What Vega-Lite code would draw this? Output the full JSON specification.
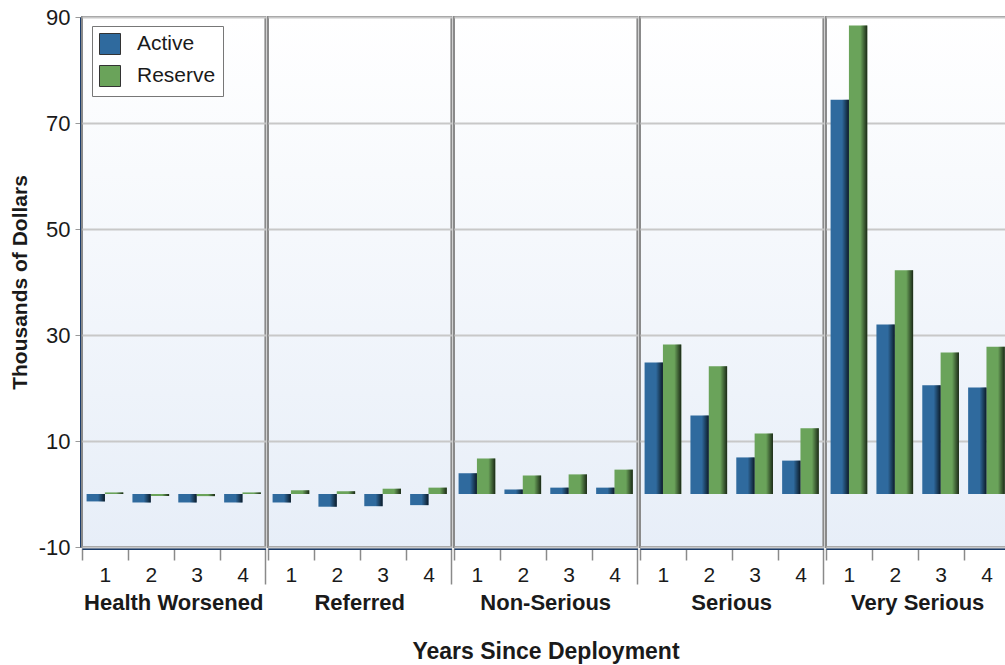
{
  "$schema": "https://vega.github.io/schema/vega-lite/v6.json",
  "padding": {"left": 9, "top": 6, "right": 0, "bottom": 2},
  "background": "white",
  "data": {"values": [
    {"cat": "Health Worsened", "year": "1", "group": "Active", "value": -1.4},
    {"cat": "Health Worsened", "year": "1", "group": "Reserve", "value": 0.3},
    {"cat": "Health Worsened", "year": "2", "group": "Active", "value": -1.6},
    {"cat": "Health Worsened", "year": "2", "group": "Reserve", "value": -0.4},
    {"cat": "Health Worsened", "year": "3", "group": "Active", "value": -1.6},
    {"cat": "Health Worsened", "year": "3", "group": "Reserve", "value": -0.4},
    {"cat": "Health Worsened", "year": "4", "group": "Active", "value": -1.6},
    {"cat": "Health Worsened", "year": "4", "group": "Reserve", "value": 0.3},
    {"cat": "Referred", "year": "1", "group": "Active", "value": -1.6},
    {"cat": "Referred", "year": "1", "group": "Reserve", "value": 0.7},
    {"cat": "Referred", "year": "2", "group": "Active", "value": -2.4},
    {"cat": "Referred", "year": "2", "group": "Reserve", "value": 0.5},
    {"cat": "Referred", "year": "3", "group": "Active", "value": -2.3},
    {"cat": "Referred", "year": "3", "group": "Reserve", "value": 1.0},
    {"cat": "Referred", "year": "4", "group": "Active", "value": -2.1},
    {"cat": "Referred", "year": "4", "group": "Reserve", "value": 1.2},
    {"cat": "Non-Serious", "year": "1", "group": "Active", "value": 3.9},
    {"cat": "Non-Serious", "year": "1", "group": "Reserve", "value": 6.7},
    {"cat": "Non-Serious", "year": "2", "group": "Active", "value": 0.85},
    {"cat": "Non-Serious", "year": "2", "group": "Reserve", "value": 3.5},
    {"cat": "Non-Serious", "year": "3", "group": "Active", "value": 1.2},
    {"cat": "Non-Serious", "year": "3", "group": "Reserve", "value": 3.7},
    {"cat": "Non-Serious", "year": "4", "group": "Active", "value": 1.2},
    {"cat": "Non-Serious", "year": "4", "group": "Reserve", "value": 4.6},
    {"cat": "Serious", "year": "1", "group": "Active", "value": 24.8},
    {"cat": "Serious", "year": "1", "group": "Reserve", "value": 28.2},
    {"cat": "Serious", "year": "2", "group": "Active", "value": 14.8},
    {"cat": "Serious", "year": "2", "group": "Reserve", "value": 24.1},
    {"cat": "Serious", "year": "3", "group": "Active", "value": 6.9},
    {"cat": "Serious", "year": "3", "group": "Reserve", "value": 11.4},
    {"cat": "Serious", "year": "4", "group": "Active", "value": 6.3},
    {"cat": "Serious", "year": "4", "group": "Reserve", "value": 12.4},
    {"cat": "Very Serious", "year": "1", "group": "Active", "value": 74.4},
    {"cat": "Very Serious", "year": "1", "group": "Reserve", "value": 88.4},
    {"cat": "Very Serious", "year": "2", "group": "Active", "value": 32.0},
    {"cat": "Very Serious", "year": "2", "group": "Reserve", "value": 42.2},
    {"cat": "Very Serious", "year": "3", "group": "Active", "value": 20.5},
    {"cat": "Very Serious", "year": "3", "group": "Reserve", "value": 26.7},
    {"cat": "Very Serious", "year": "4", "group": "Active", "value": 20.1},
    {"cat": "Very Serious", "year": "4", "group": "Reserve", "value": 27.8}
  ]},
  "facet": {
    "column": {
      "field": "cat",
      "type": "nominal",
      "sort": ["Health Worsened", "Referred", "Non-Serious", "Serious", "Very Serious"],
      "title": "Years Since Deployment",
      "header": {
        "labelOrient": "bottom",
        "labelFont": "Liberation Sans",
        "labelFontSize": 22,
        "labelFontWeight": "bold",
        "labelColor": "#1a1a1a",
        "labelPadding": 8,
        "titleOrient": "bottom",
        "titleFont": "Liberation Sans",
        "titleFontSize": 23,
        "titleFontWeight": "bold",
        "titleColor": "#1a1a1a",
        "titlePadding": 17
      }
    }
  },
  "spacing": 0,
  "spec": {
    "width": 183.4,
    "height": 530,
    "encoding": {
      "x": {
        "field": "year",
        "type": "ordinal",
        "scale": {"paddingInner": 0, "paddingOuter": 0},
        "axis": {
          "title": null,
          "labelAngle": 0,
          "labelFont": "Liberation Sans",
          "labelFontSize": 21,
          "labelColor": "#1a1a1a",
          "labelPadding": {"condition": {"test": "datum.value === '4'", "value": -20}, "value": 4},
          "domainColor": "#1c3d6b",
          "domainWidth": 3,
          "tickBand": "extent",
          "tickColor": "#8a8a8a",
          "tickWidth": 1.5,
          "tickSize": {"condition": {"test": "datum.value === '4'", "value": 36}, "value": 12}
        }
      },
      "xOffset": {"field": "group", "type": "nominal", "scale": {"domain": ["Active", "Reserve"], "paddingInner": 0, "paddingOuter": 0.25}},
      "y": {
        "field": "value",
        "type": "quantitative",
        "scale": {"domain": [-10, 90], "nice": false, "zero": false},
        "axis": {
          "title": "Thousands of Dollars",
          "titleFont": "Liberation Sans",
          "titleFontSize": 21,
          "titleFontWeight": "bold",
          "titleColor": "#1a1a1a",
          "titlePadding": 8,
          "values": [-10, 10, 30, 50, 70, 90],
          "labelExpr": "'' + datum.value",
          "labelFont": "Liberation Sans",
          "labelFontSize": 22,
          "labelColor": "#1a1a1a",
          "labelPadding": 5,
          "domainColor": "#1c3d6b",
          "domainWidth": 3,
          "tickColor": "#999999",
          "tickSize": 6,
          "grid": true,
          "gridColor": "#c8c8c8",
          "gridWidth": 2
        }
      }
    },
    "layer": [
      {
        "mark": {"type": "bar"},
        "encoding": {
          "color": {
            "field": "group",
            "type": "nominal",
            "scale": {"domain": ["Active", "Reserve"], "range": ["#2f6a9e", "#6aa35a"]},
            "legend": {
              "title": null,
              "orient": "none",
              "legendX": 10,
              "legendY": 9,
              "fillColor": "white",
              "strokeColor": "#777777",
              "padding": 7,
              "symbolType": "square",
              "symbolSize": 441,
              "symbolStrokeColor": "#333333",
              "symbolStrokeWidth": 1,
              "symbolOpacity": 1,
              "labelFont": "Liberation Sans",
              "labelFontSize": 21,
              "labelColor": "#1a1a1a",
              "labelOffset": 16,
              "rowPadding": 6
            }
          }
        }
      },
      {
        "mark": {
          "type": "bar",
          "fill": {
            "gradient": "linear",
            "x1": 0, "y1": 0, "x2": 1, "y2": 0,
            "stops": [
              {"offset": 0, "color": "rgba(0,0,0,0)"},
              {"offset": 0.62, "color": "rgba(0,0,0,0)"},
              {"offset": 1, "color": "rgba(0,0,0,0.75)"}
            ]
          }
        },
        "encoding": {}
      }
    ]
  },
  "config": {
    "view": {
      "stroke": "#8a8a8a",
      "strokeWidth": 2,
      "fill": {
        "gradient": "linear",
        "x1": 0, "y1": 0, "x2": 0, "y2": 1,
        "stops": [
          {"offset": 0, "color": "#ffffff"},
          {"offset": 1, "color": "#e7eef8"}
        ]
      }
    }
  }
}
